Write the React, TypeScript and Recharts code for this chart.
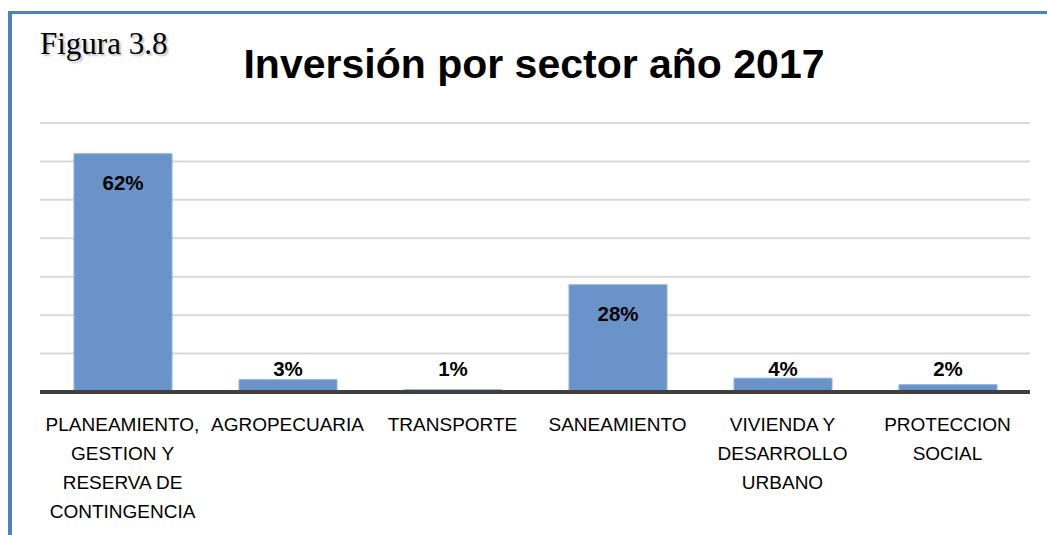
import React from "react";
import { BarChart, Bar, XAxis, YAxis, CartesianGrid, LabelList } from "recharts";

const categories = [
  "PLANEAMIENTO,\nGESTION Y\nRESERVA DE\nCONTINGENCIA",
  "AGROPECUARIA",
  "TRANSPORTE",
  "SANEAMIENTO",
  "VIVIENDA Y\nDESARROLLO\nURBANO",
  "PROTECCION\nSOCIAL",
];
const shares = [0.62, 0.032, 0.006, 0.279, 0.036, 0.019];
const yTicks = [0, 0.1, 0.2, 0.3, 0.4, 0.5, 0.6, 0.7];
const title = "Inversión por sector año 2017";
const figureLabel = "Figura 3.8";

const data = categories.map((c, i) => ({ name: c, value: shares[i] }));

const FONT = "'Liberation Sans', Arial, sans-serif";

const CategoryTick = (props: any) => {
  const { x, y, payload } = props;
  const lines = String(payload.value).split("\n");
  return (
    <text x={x} y={y} textAnchor="middle" fontFamily={FONT} fontSize={19} fill="#000">
      {lines.map((l, i) => (
        <tspan key={i} x={x} dy={i === 0 ? 31 : 29}>
          {l}
        </tspan>
      ))}
    </text>
  );
};

const ValueLabel = (props: any) => {
  const { x, y, width, height, value } = props;
  const inside = height > 30;
  const ty = inside ? y + 36 : y + height - 16;
  return (
    <text
      x={x + width / 2}
      y={ty}
      textAnchor="middle"
      fontFamily={FONT}
      fontWeight="bold"
      fontSize={20.5}
      fill="#000"
    >
      {Math.round(value * 100) + "%"}
    </text>
  );
};

export default function App() {
  return (
    <div
      style={{
        position: "absolute",
        left: 0,
        top: 0,
        width: 1047,
        height: 535,
        background: "#fff",
        overflow: "hidden",
      }}
    >
      <div
        style={{
          position: "absolute",
          left: 8,
          top: 11,
          width: 1039,
          height: 524,
          borderLeft: "4px solid #4f81bd",
          borderTop: "3px solid #4f81bd",
        }}
      />
      <div
        style={{
          position: "absolute",
          left: 40,
          top: 26,
          fontFamily: "'Liberation Serif', 'Times New Roman', serif",
          fontSize: 31,
          color: "#000",
          textShadow: "2px 2px 2px rgba(0,0,0,0.25)",
          whiteSpace: "nowrap",
        }}
      >
        {figureLabel}
      </div>
      <div
        style={{
          position: "absolute",
          left: 0,
          width: 1068,
          top: 41,
          textAlign: "center",
          fontFamily: FONT,
          fontWeight: "bold",
          fontSize: 41,
          color: "#000",
          whiteSpace: "nowrap",
        }}
      >
        {title}
      </div>
      <div style={{ position: "absolute", left: 0, top: 0 }}>
        <BarChart
          width={1047}
          height={535}
          data={data}
          margin={{ top: 123, right: 17, bottom: 0, left: 40 }}
          barSize={98}
        >
          <CartesianGrid horizontal vertical={false} stroke="#d9d9d9" strokeWidth={2} />
          <YAxis hide domain={[0, 0.7]} ticks={yTicks} />
          <XAxis
            dataKey="name"
            height={143}
            interval={0}
            tickLine={false}
            axisLine={{ stroke: "#404040", strokeWidth: 4 }}
            tick={<CategoryTick />}
          />
          <Bar dataKey="value" fill="#6993c9" stroke="#8eb0dc" strokeWidth={1} isAnimationActive={false}>
            <LabelList dataKey="value" content={<ValueLabel />} />
          </Bar>
        </BarChart>
      </div>
    </div>
  );
}
